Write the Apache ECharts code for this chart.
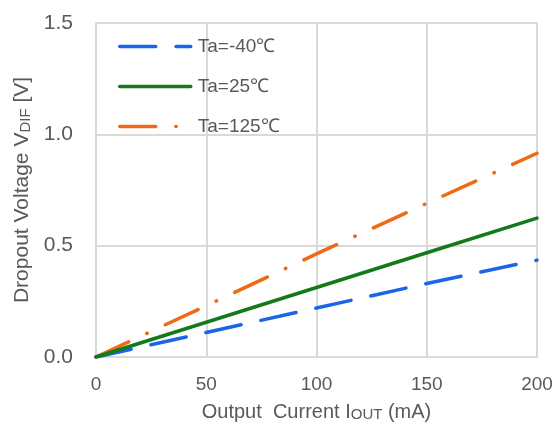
<!DOCTYPE html>
<html><head><meta charset="utf-8">
<script src="https://cdn.jsdelivr.net/npm/echarts@6/dist/echarts.min.js"></script>
<style>html,body{margin:0;padding:0;background:#fff}#c{width:560px;height:428px}</style>
</head><body><div id="c"></div>
<script>
const currents = [0, 50, 100, 150, 200];
const vMinus40 = [0, 0.11, 0.22, 0.33, 0.435];
const v25 = [0, 0.156, 0.312, 0.468, 0.624];
const v125 = [0, 0.23, 0.463, 0.69, 0.915];
const seriesNames = ['Ta=-40℃', 'Ta=25℃', 'Ta=125℃'];
const xTicks = [0, 50, 100, 150, 200];
const yTicks = [0.0, 0.5, 1.0, 1.5];

const pairs = v => currents.map((c, i) => [c, v[i]]);
const txt = '#595959';
const gridCol = '#d9d9d9';
const font = 'Liberation Sans, Arial, sans-serif';
const chart = echarts.init(document.getElementById('c'));
chart.setOption({
  animation: false,
  backgroundColor: '#fff',
  grid: {left: 96, right: 23, top: 23, bottom: 71},
  legend: {
    orient: 'vertical', left: 113, top: 32, itemGap: 21,
    itemWidth: 71, itemHeight: 20,
    itemStyle: {opacity: 0},
    lineStyle: {width: 3.5},
    textStyle: {color: txt, fontSize: 19, fontFamily: font, padding: [0,0,0,2]},
    data: seriesNames
  },
  xAxis: {
    type: 'value', min: xTicks[0], max: xTicks[xTicks.length-1], interval: 50,
    axisLine: {show: true, lineStyle: {color: gridCol, width: 2}},
    axisTick: {show: false},
    splitLine: {show: true, lineStyle: {color: gridCol, width: 2}},
    axisLabel: {color: txt, fontSize: 19, fontFamily: font, margin: 18},
    name: '{n|Output  Current I}{s|OUT}{n| (mA)}', nameLocation: 'middle', nameGap: 43,
    nameTextStyle: {rich: {n: {color: txt, fontSize: 20, fontFamily: font, verticalAlign: 'bottom', lineHeight: 22}, s: {color: txt, fontSize: 15, fontFamily: font, verticalAlign: 'bottom', lineHeight: 22}}}
  },
  yAxis: {
    type: 'value', min: yTicks[0], max: yTicks[yTicks.length-1], interval: 0.5,
    axisLine: {show: true, lineStyle: {color: gridCol, width: 2}},
    axisTick: {show: false},
    splitLine: {show: true, lineStyle: {color: gridCol, width: 2}},
    axisLabel: {color: txt, fontSize: 21, fontFamily: font, margin: 23, formatter: v => v.toFixed(1)},
    name: '{n|Dropout Voltage V}{s|DIF}{n| [V]}', nameLocation: 'middle', nameGap: 63,
    nameTextStyle: {rich: {n: {color: txt, fontSize: 21, fontFamily: font, verticalAlign: 'bottom', lineHeight: 23}, s: {color: txt, fontSize: 15, fontFamily: font, verticalAlign: 'bottom', lineHeight: 23}}}
  },
  series: [
    {name: seriesNames[0], type: 'line', symbol: 'none', data: pairs(vMinus40), z: 3,
     lineStyle: {color: '#1a66e6', width: 3.5, type: [36, 20.3], cap: 'round'}, itemStyle: {color: '#1a66e6'}},
    {name: seriesNames[1], type: 'line', symbol: 'none', data: pairs(v25), z: 4,
     lineStyle: {color: '#137a1a', width: 3.5, type: 'solid', cap: 'round'}, itemStyle: {color: '#137a1a'}},
    {name: seriesNames[2], type: 'line', symbol: 'none', data: pairs(v125), z: 2,
     lineStyle: {color: '#ee6a16', width: 3.5, type: [36, 20, 0.5, 20], cap: 'round'}, itemStyle: {color: '#ee6a16'}}
  ]
});
</script></body></html>
